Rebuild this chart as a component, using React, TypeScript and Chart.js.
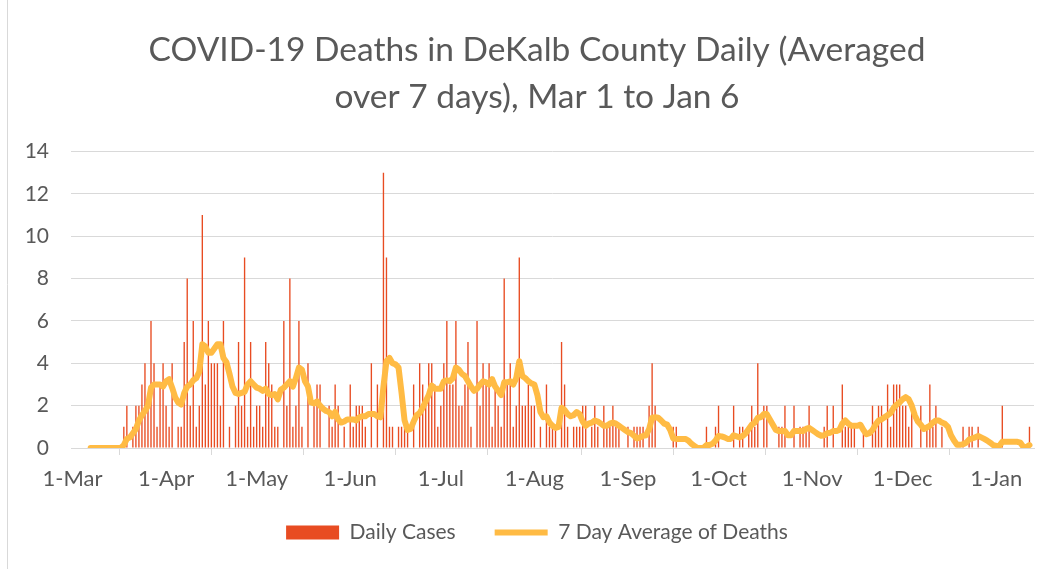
import { useEffect, useRef } from 'react';
import { Chart, registerables } from 'chart.js';

Chart.register(...registerables);

// ---- categories: one per day, 1-Mar .. 13-Jan (axis extent) ----
const MONTHS = ['Mar', 'Apr', 'May', 'Jun', 'Jul', 'Aug', 'Sep', 'Oct', 'Nov', 'Dec', 'Jan'];
const MONTH_DAYS = [31, 30, 31, 30, 31, 31, 30, 31, 30, 31, 13];
const dates: string[] = [];
MONTHS.forEach((m, i) => {
  for (let d = 1; d <= MONTH_DAYS[i]; d++) dates.push(`${d}-${m}`);
});

// data begins on 7-Mar (category index 6)
const FIRST_INDEX = 6;

// daily deaths, 7-Mar onward
const dailyDeaths: number[] = [
  0, 0, 0, 0, 0, 0, 0, 0, 0, 0, 0, // 7-Mar .. 17-Mar
  1, 2, 0, 1, 2, 2, 3, 4, 2, 6, 4, 1, 3, 4, 2, 1, 4, 0, 1, 1, 5, // 18-Mar .. 7-Apr
  8, 2, 6, 1, 2, 11, 3, 6, 4, 4, 4, 2, 6, 0, 1, 0, 2, 5, 2, 9, // 8-Apr .. 27-Apr
  1, 5, 1, 2, 2, 1, 5, 4, 3, 1, 1, 0, 6, 2, 8, 1, 2, 6, 1, 0, // 28-Apr .. 17-May
  4, 0, 2, 3, 3, 0, 0, 2, 1, 3, 2, 0, 1, 0, 3, 1, 2, 2, 2, 1, // 18-May .. 6-Jun
  0, 4, 0, 3, 0, 13, 9, 1, 1, 0, 1, 1, 1, 1, 0, 3, 0, 4, 3, 2, // 7-Jun .. 26-Jun
  4, 4, 3, 1, 2, 4, 6, 3, 3, 6, 2, 2, 3, 5, 1, 0, 6, 2, 4, 3, // 27-Jun .. 16-Jul
  4, 1, 3, 2, 1, 8, 3, 4, 1, 2, 9, 2, 2, 3, 2, 2, 0, 1, 0, 3, // 17-Jul .. 5-Aug
  1, 1, 1, 0, 5, 3, 1, 0, 1, 1, 1, 2, 2, 0, 1, 2, 1, 0, 2, 1, // 6-Aug .. 25-Aug
  1, 2, 1, 1, 0, 0, 1, 0, 1, 1, 1, 1, 0, 2, 4, 2, 0, 0, 0, 0, // 26-Aug .. 14-Sep
  0, 1, 1, 0, 0, 0, 0, 0, 0, 0, 0, 0, 1, 0, 0, 1, 2, 0, 0, 0, // 15-Sep .. 4-Oct
  0, 2, 0, 1, 1, 0, 1, 2, 1, 4, 0, 2, 2, 0, 0, 0, 1, 1, 2, 0, // 5-Oct .. 24-Oct
  0, 2, 0, 1, 1, 1, 2, 0, 0, 0, 0, 1, 2, 0, 2, 0, 0, 3, 1, 1, // 25-Oct .. 13-Nov
  1, 1, 0, 0, 1, 0, 0, 2, 1, 2, 2, 0, 3, 1, 3, 3, 3, 2, 2, 1, // 14-Nov .. 3-Dec
  2, 0, 0, 2, 0, 1, 3, 1, 2, 0, 1, 0, 0, 0, 0, 0, 0, 1, 0, 1, // 4-Dec .. 23-Dec
  1, 0, 1, 0, 0, 0, 0, 0, 0, 0, 2, 0, 0, 0, 0, 0, 0, 0, 0, 1, // 24-Dec .. 12-Jan
];

// 7-day average of deaths, 7-Mar onward
const sevenDayAvg: number[] = [
  0, 0, 0, 0, 0, 0, 0, 0, 0, 0, 0,
  0.14, 0.43, 0.5, 0.7, 0.9, 1.3, 1.55, 1.75, 2.0, 2.85, 3.0, 3.0, 3.0, 2.9, 3.15, 3.25, 2.85, 2.4, 2.15, 2.05, 2.6,
  2.9, 3.0, 3.2, 3.3, 3.6, 4.9, 4.8, 4.5, 4.5, 4.7, 4.9, 4.9, 4.25, 4.05, 3.5, 2.9, 2.6, 2.55, 2.6, 2.65,
  3.0, 3.15, 3.0, 2.85, 2.8, 2.7, 2.8, 2.55, 2.5, 2.55, 2.3, 2.75, 2.85, 3.0, 3.15, 2.9, 3.3, 3.8, 3.7, 3.15,
  2.9, 2.15, 2.1, 2.2, 2.0, 1.85, 1.75, 1.7, 1.5, 1.7, 1.35, 1.2, 1.25, 1.35, 1.35, 1.35, 1.3, 1.45, 1.5, 1.5,
  1.6, 1.6, 1.6, 1.5, 1.45, 2.9, 4.1, 4.25, 4.0, 3.95, 3.8, 2.6, 1.3, 0.85, 0.9, 1.25, 1.55, 1.65, 1.9, 2.2,
  2.5, 2.95, 2.8, 2.8, 2.8, 3.15, 3.2, 3.15, 3.3, 3.8, 3.7, 3.5, 3.4, 3.15, 2.9, 2.7, 2.8, 3.0, 3.15, 3.1,
  3.0, 3.25, 2.9, 2.7, 2.5, 3.1, 3.1, 3.15, 3.0, 3.3, 4.1, 3.4, 3.3, 3.15, 3.05, 3.0, 2.5, 1.7, 1.45, 1.5,
  1.2, 1.05, 0.95, 1.0, 1.9, 1.8, 1.6, 1.5, 1.55, 1.7, 1.6, 1.25, 1.05, 1.15, 1.2, 1.3, 1.25, 1.15, 1.05, 1.05,
  1.15, 1.2, 1.15, 1.05, 0.95, 0.85, 0.75, 0.7, 0.58, 0.45, 0.5, 0.57, 0.6, 0.9, 1.43, 1.45, 1.43, 1.3, 1.15, 1.1,
  0.85, 0.45, 0.43, 0.43, 0.43, 0.43, 0.35, 0.2, 0.1, 0, 0, 0, 0.14, 0.14, 0.2, 0.35, 0.57, 0.55, 0.5, 0.43,
  0.43, 0.6, 0.55, 0.5, 0.57, 0.7, 0.9, 1.1, 1.2, 1.43, 1.45, 1.6, 1.6, 1.35, 1.1, 0.85, 0.8, 0.8, 0.8, 0.6,
  0.6, 0.8, 0.8, 0.8, 0.8, 0.9, 0.95, 0.85, 0.75, 0.65, 0.58, 0.6, 0.7, 0.72, 0.8, 0.8, 0.85, 1.15, 1.3, 1.15,
  1.05, 1.05, 1.05, 1.1, 0.85, 0.65, 0.7, 0.85, 1.1, 1.3, 1.35, 1.45, 1.55, 1.65, 1.9, 2.05, 2.15, 2.3, 2.4, 2.3,
  2.0, 1.55, 1.25, 1.1, 0.9, 0.97, 1.05, 1.2, 1.3, 1.3, 1.2, 1.14, 1.0, 0.6, 0.35, 0.15, 0.15, 0.18, 0.25, 0.4,
  0.45, 0.5, 0.57, 0.5, 0.43, 0.35, 0.25, 0.14, 0.1, 0.1, 0.29, 0.29, 0.29, 0.29, 0.29, 0.29, 0.25, 0.05, 0.05, 0.14,
];

const TITLE_LINES = ['COVID-19 Deaths in DeKalb County Daily (Averaged', 'over 7 days), Mar 1 to Jan 6'];
const Y_MAX = 14;
const Y_STEP = 2;

function pad(values: number[]): (number | null)[] {
  const out: (number | null)[] = new Array(dates.length).fill(null);
  values.forEach((v, i) => {
    out[FIRST_INDEX + i] = v;
  });
  return out;
}

const FONT = 'Lato, "Open Sans", sans-serif';
const TEXT = '#595959';
const GRID = '#d9d9d9';

export default function App() {
  const ref = useRef<HTMLCanvasElement | null>(null);

  useEffect(() => {
    document.body.style.margin = '0';
    const canvas = ref.current;
    if (!canvas) return;

    const framePlugin = {
      id: 'frame',
      afterLayout(chart: any) {
        // widen label clip boxes so the tick labels are not cut
        const { x, y } = chart.scales;
        if (y) y.left = 0;
        if (x) x.bottom = chart.height;
      },
      afterDraw(chart: Chart) {
        const { ctx } = chart;
        ctx.save();
        ctx.strokeStyle = GRID;
        ctx.lineWidth = 1;
        ctx.beginPath();
        ctx.moveTo(7.5, 0);
        ctx.lineTo(7.5, chart.height);
        ctx.stroke();
        ctx.restore();
      },
    };

    const chart = new Chart(canvas, {
      type: 'bar',
      data: {
        labels: dates,
        datasets: [
          {
            type: 'bar',
            label: 'Daily Cases',
            data: pad(dailyDeaths),
            backgroundColor: '#E84C22',
            borderWidth: 0,
            barPercentage: 0.45,
            categoryPercentage: 1,
            order: 1,
            pointStyle: 'rect',
          },
          {
            type: 'line',
            label: '7 Day Average of Deaths',
            data: pad(sevenDayAvg),
            borderColor: '#FFBB44',
            backgroundColor: '#FFBB44',
            borderWidth: 6,
            borderCapStyle: 'round',
            borderJoinStyle: 'round',
            pointRadius: 0,
            tension: 0,
            order: 0,
            pointStyle: 'line',
          },
        ],
      },
      options: {
        animation: false,
        responsive: false,
        maintainAspectRatio: false,
        layout: { padding: { left: 40, right: 17, top: 0, bottom: 16 } },
        plugins: {
          tooltip: { enabled: false },
          title: {
            display: true,
            text: TITLE_LINES,
            color: TEXT,
            font: { family: FONT, size: 33.5, weight: 'normal', lineHeight: '47px' },
            padding: { top: 26.5, bottom: 31 },
          },
          legend: {
            position: 'bottom',
            labels: {
              sort: (a: any, b: any) => a.datasetIndex - b.datasetIndex,
              usePointStyle: true,
              pointStyleWidth: 53,
              boxHeight: 14,
              color: TEXT,
              font: { family: FONT, size: 21 },
              padding: 39,
            },
          },
        },
        scales: {
          x: {
            type: 'category',
            offset: true,
            grid: {
              offset: true,
              drawOnChartArea: false,
              drawTicks: true,
              tickLength: 7,
              color: GRID,
            },
            border: { display: true, color: GRID },
            ticks: {
              autoSkip: false,
              maxRotation: 0,
              minRotation: 0,
              padding: 11,
              color: TEXT,
              font: { family: FONT, size: 22 },
              callback: (_v: any, index: number) => (dates[index].startsWith('1-') ? dates[index] : null),
            },
            afterFit: (scale: any) => {
              scale.height = 35;
            },
          },
          y: {
            min: 0,
            max: Y_MAX,
            ticks: {
              stepSize: Y_STEP,
              color: TEXT,
              font: { family: FONT, size: 21 },
              padding: 22,
            },
            grid: { color: GRID, drawTicks: false },
            border: { display: false },
            afterFit: (scale: any) => {
              scale.width = 31;
            },
          },
        },
      },
      plugins: [framePlugin],
    });

    return () => chart.destroy();
  }, []);

  return (
    <div style={{ width: 1051, height: 569, position: 'relative', background: '#fff' }}>
      <canvas ref={ref} width={1051} height={569} style={{ display: 'block', width: 1051, height: 569 }} />
    </div>
  );
}
